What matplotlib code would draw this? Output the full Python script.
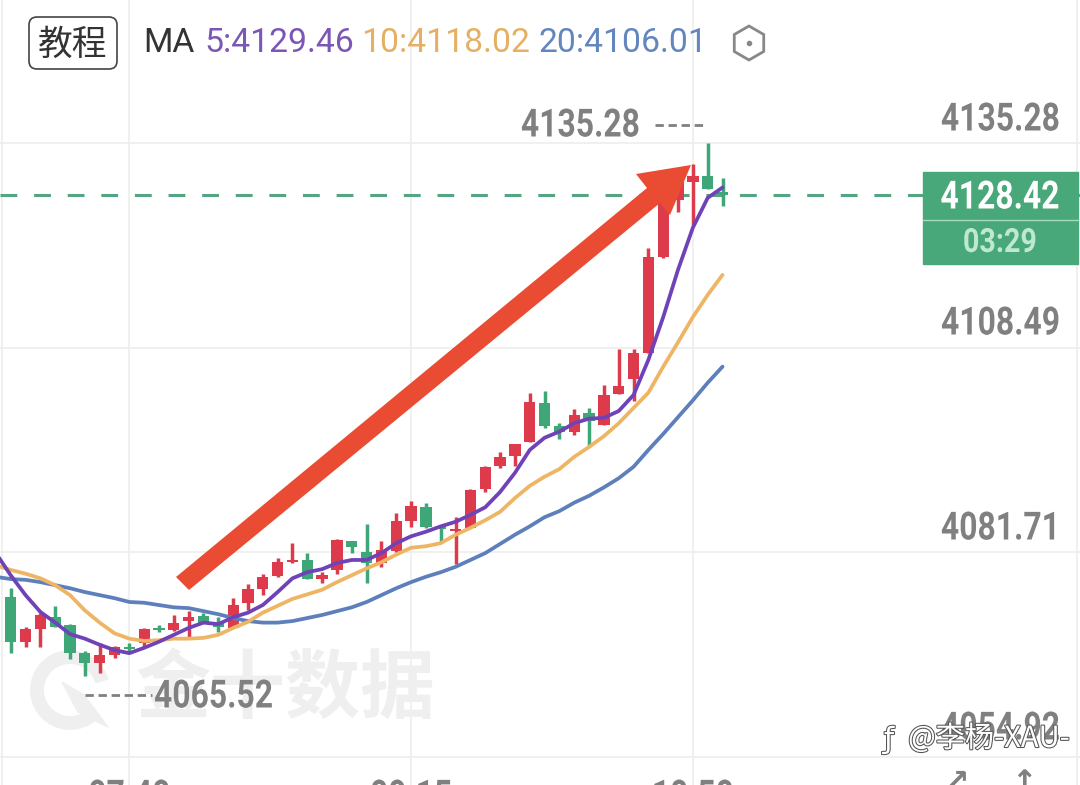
import matplotlib
matplotlib.use('Agg')
import matplotlib.pyplot as plt
import matplotlib.patheffects as pe
from matplotlib.patches import Polygon, FancyBboxPatch, Rectangle, Arc, RegularPolygon
from matplotlib.transforms import Affine2D

# 5 minute gold candles, price values
opens = [4075.9, 4070.0, 4071.7, 4073.2, 4072.2, 4068.5, 4067.2, 4068.3, 4069.2, 4069.8,
         4071.7, 4071.5, 4072.7, 4073.4, 4072.5, 4071.8, 4075.1, 4076.9, 4078.6, 4080.4,
         4080.7, 4078.2, 4079.4, 4083.2, 4081.7, 4080.3, 4081.9, 4085.8, 4087.6, 4084.9,
         4084.5, 4084.9, 4090.0, 4093.0, 4094.3, 4096.1, 4101.2, 4098.2, 4097.5, 4099.9,
         4098.4, 4102.4, 4104.4, 4107.8, 4120.4, 4127.8, 4130.2, 4131.0, 4128.9]
highs = [4077.0, 4071.9, 4073.8, 4074.7, 4072.3, 4068.8, 4069.8, 4069.4, 4069.8, 4071.8,
         4072.2, 4073.5, 4074.0, 4073.8, 4073.2, 4075.7, 4077.6, 4078.9, 4081.0, 4082.9,
         4081.6, 4079.1, 4083.4, 4083.2, 4085.4, 4083.2, 4086.8, 4088.4, 4088.2, 4085.0,
         4086.3, 4090.0, 4093.0, 4094.8, 4095.9, 4102.6, 4102.8, 4098.6, 4100.5, 4100.6,
         4103.6, 4108.3, 4108.3, 4121.5, 4129.1, 4131.8, 4132.5, 4135.28, 4130.7]
lows = [4068.5, 4069.3, 4069.3, 4071.9, 4067.7, 4065.52, 4065.9, 4067.9, 4068.5, 4069.3,
        4071.3, 4071.4, 4070.6, 4072.5, 4071.3, 4071.8, 4074.2, 4076.1, 4078.5, 4080.3,
        4078.2, 4077.7, 4078.9, 4081.6, 4077.7, 4079.8, 4081.7, 4085.0, 4084.9, 4083.0,
        4080.2, 4084.9, 4089.6, 4092.7, 4093.0, 4096.1, 4098.0, 4096.5, 4097.1, 4095.5,
        4098.4, 4102.4, 4101.5, 4107.8, 4120.2, 4126.2, 4124.5, 4129.2, 4127.0]
closes = [4070.0, 4071.7, 4073.5, 4071.9, 4068.5, 4067.2, 4068.3, 4069.3, 4069.0, 4071.7,
          4071.5, 4072.5, 4073.2, 4072.5, 4071.9, 4074.8, 4076.9, 4078.5, 4080.4, 4080.7,
          4078.2, 4078.7, 4083.3, 4082.4, 4080.3, 4082.0, 4085.8, 4087.8, 4085.0, 4084.7,
          4084.7, 4089.9, 4092.9, 4094.2, 4095.9, 4101.4, 4098.2, 4097.5, 4099.7, 4098.9,
          4102.3, 4103.5, 4107.8, 4120.4, 4127.4, 4130.7, 4131.0, 4129.3, 4128.42]

# moving averages, first value belongs to the candle just left of the frame
ma5 = [4081.6, 4078.7, 4076.1, 4073.9, 4072.5, 4071.0, 4070.4, 4069.6, 4068.9, 4068.5,
       4069.2, 4070.0, 4070.9, 4071.8, 4072.5, 4072.3, 4073.2, 4073.8, 4074.8, 4076.5,
       4078.3, 4079.1, 4079.5, 4080.3, 4080.7, 4080.7, 4081.6, 4082.9, 4083.8, 4084.4,
       4085.1, 4085.7, 4086.6, 4087.6, 4089.6, 4092.1, 4095.1, 4096.7, 4097.5, 4098.6,
       4099.2, 4099.3, 4100.2, 4102.3, 4106.9, 4112.5, 4118.7, 4124.2, 4128.1, 4129.46]
ma10 = [4080.0, 4079.4, 4078.9, 4078.3, 4077.4, 4076.1, 4074.1, 4072.5, 4071.1, 4070.4,
        4070.1, 4070.2, 4070.4, 4070.4, 4070.5, 4070.9, 4071.8, 4072.6, 4073.8, 4074.7,
        4075.6, 4076.2, 4076.8, 4077.8, 4078.7, 4079.6, 4080.4, 4081.4, 4082.3, 4082.5,
        4082.9, 4084.0, 4084.9, 4085.9, 4087.0, 4088.8, 4090.4, 4091.6, 4092.6, 4094.2,
        4095.5, 4096.9, 4098.6, 4100.6, 4102.6, 4106.0, 4109.2, 4112.5, 4115.4, 4118.02]
ma20 = [4078.5, 4078.2, 4078.1, 4077.8, 4077.4, 4077.0, 4076.5, 4076.1, 4075.7, 4075.2,
        4075.1, 4074.8, 4074.5, 4074.4, 4074.0, 4073.6, 4073.1, 4072.7, 4072.5, 4072.5,
        4072.7, 4073.1, 4073.5, 4074.0, 4074.5, 4075.2, 4076.1, 4077.0, 4077.8, 4078.5,
        4079.1, 4079.8, 4080.7, 4081.6, 4082.8, 4084.0, 4085.1, 4086.3, 4087.1, 4088.2,
        4089.1, 4090.2, 4091.4, 4092.9, 4095.1, 4097.2, 4099.4, 4101.6, 4103.9, 4106.01]

price_ticks = [4135.28, 4108.49, 4081.71, 4054.92]
time_idx = [8, 27, 46]
time_labels = ['07:40', '09:15', '10:50']
max_price = 4135.28
min_price = 4065.52
last_price = 4128.42
countdown = '03:29'

UP = '#dd3a4c'
DOWN = '#3fa677'
PURPLE = '#6f42b8'
ORANGE = '#eeb565'
BLUE = '#5d7fbb'
GREY = '#808080'
GRID = '#eeeeee'
CJK = ['Noto Sans CJK SC', 'DejaVu Sans']


class Squeeze(pe.AbstractPathEffect):
    # the app's numbers are a narrow DIN face, so narrow Roboto around its anchor
    def __init__(self, x0, sx):
        super().__init__()
        self.x0 = x0
        self.sx = sx

    def draw_path(self, renderer, gc, tpath, affine, rgbFace=None):
        squeeze = Affine2D().translate(-self.x0, 0).scale(self.sx, 1).translate(self.x0, 0)
        renderer.draw_path(gc, tpath, affine + squeeze, rgbFace)


fig = plt.figure(figsize=(10.8, 7.85), dpi=100)
ax = fig.add_axes([0, 0, 1, 1])
ax.set_xlim(-10.7 / 14.83, (1080 - 10.7) / 14.83)
ax.set_ylim(4154.0 - 0.1309 * 785, 4154.0)
ax.axis('off')

# pixel positions for everything that is not on the price scale
px = Affine2D().scale(1, -1).translate(0, 785)


def num(x, y, s, size=28, color=GREY, ha='right', sx=0.82, weight='bold', z=9):
    ax.text(x, y, s, transform=px, family='Roboto', fontsize=size, fontweight=weight, color=color,
            ha=ha, va='center', zorder=z, path_effects=[Squeeze(x, sx)])


for p in price_ticks:
    ax.axhline(p, color=GRID, lw=1.2, zorder=1)
for i in time_idx:
    ax.axvline(i, color=GRID, lw=1.2, zorder=1)
ax.axvline(-0.62, color=GRID, lw=1.2, zorder=1)
ax.axvline(71.9, color=GRID, lw=1.2, zorder=1)

# watermark
ax.text(135, 690, '金十数据', transform=px, family=CJK, fontsize=54, fontweight='bold',
        color='#efefef', va='center', ha='left', zorder=2)
ax.add_patch(Arc((70, 690), 66, 66, theta1=40, theta2=345, transform=px, color='#efefef', lw=10, zorder=2))
ax.add_patch(Polygon([(62, 682), (84, 695), (108, 727), (78, 712)], transform=px, color='#efefef', zorder=2))

# last price line
ax.axhline(last_price, color='#55a583', lw=2.2, dashes=(5.5, 5.5), zorder=3)

# candles
for i in range(len(opens)):
    col = UP if closes[i] >= opens[i] else DOWN
    ax.vlines(i, lows[i], highs[i], color=col, lw=2.5, zorder=4)
    ax.bar(i, max(abs(closes[i] - opens[i]), 0.3), bottom=min(opens[i], closes[i]),
           width=0.76, color=col, zorder=4)

xs = list(range(-1, len(opens)))
ax.plot(xs, ma20, color=BLUE, lw=2.7, zorder=5, solid_capstyle='round')
ax.plot(xs, ma10, color=ORANGE, lw=2.7, zorder=6, solid_capstyle='round')
ax.plot(xs, ma5, color=PURPLE, lw=2.7, zorder=7, solid_capstyle='round')

# hand drawn arrow on top
ax.add_patch(Polygon([(176, 577), (647, 188), (636, 174), (691, 165), (670, 215), (660, 203), (189, 590)],
                     transform=px, facecolor='#ea4c33', edgecolor='none', zorder=8))

# price axis labels
label_y = [120, 324, 529, 729]
for p, y in zip(price_ticks, label_y):
    num(1060, y, f'{p:.2f}')
for i, t in zip(time_idx, time_labels):
    num(10.7 + 14.83 * i, 797, t, ha='center')

# high and low markers
num(640, 126, f'{max_price:.2f}')
ax.plot([655, 703], [125, 125], transform=px, color=GREY, lw=2, dashes=(3, 1.7), zorder=9)
num(273, 697, f'{min_price:.2f}')
ax.plot([85, 152], [695, 695], transform=px, color=GREY, lw=2, dashes=(3, 1.7), zorder=9)

# last price box
ax.add_patch(Rectangle((923, 172), 155, 92, transform=px, color='#48a879', zorder=9))
ax.plot([923, 1078], [219.5, 219.5], transform=px, color='#a5d9bd', lw=1, zorder=10)
num(1000, 198, f'{last_price:.2f}', color='white', ha='center', z=10)
num(1000, 243, countdown, size=24, color='#bfe8d2', ha='center', sx=0.86, z=10)

# header
ax.add_patch(FancyBboxPatch((29, 17), 88, 52, boxstyle='round,pad=0,rounding_size=8', transform=px,
                            facecolor='white', edgecolor='#444444', lw=1.2, zorder=9))
ax.text(73, 45, '教程', transform=px, family=CJK, fontsize=25, color='#333333', ha='center', va='center', zorder=10)
header = [(143, 'MA', '#333333'), (204, '5:4129.46', '#7b57b5'),
          (361, '10:4118.02', '#e5b064'), (539, '20:4106.01', '#6286bd')]
for x, s, c in header:
    ax.text(x, 52, s, transform=px, family='Roboto', fontsize=24.3, color=c, ha='left', va='baseline', zorder=10)
ax.add_patch(RegularPolygon((749, 43), 6, radius=17, transform=px, facecolor='none', edgecolor='#888888', lw=2, zorder=10))
ax.plot([749], [43], 'o', ms=3, color='#888888', transform=px, zorder=10)

# repost watermark
ax.text(1070, 739, '@李杨-XAU-', transform=px, family=CJK, fontsize=21, color='white', ha='right', va='center',
        zorder=11, path_effects=[pe.withStroke(linewidth=1.5, foreground='#555555')])
ax.text(889, 740, 'ƒ', transform=px, family='DejaVu Sans', fontsize=21, color='white', ha='center', va='center',
        zorder=11, path_effects=[pe.withStroke(linewidth=1.5, foreground='#555555')])

# toolbar arrows cut by the bottom edge
ax.text(957, 783, '↗', transform=px, family='DejaVu Sans', fontsize=22, fontweight='bold', color=GREY, ha='center', va='center', zorder=9)
ax.text(1024, 783, '↑', transform=px, family='DejaVu Sans', fontsize=22, fontweight='bold', color=GREY, ha='center', va='center', zorder=9)

fig.savefig('out.png', dpi=100)
